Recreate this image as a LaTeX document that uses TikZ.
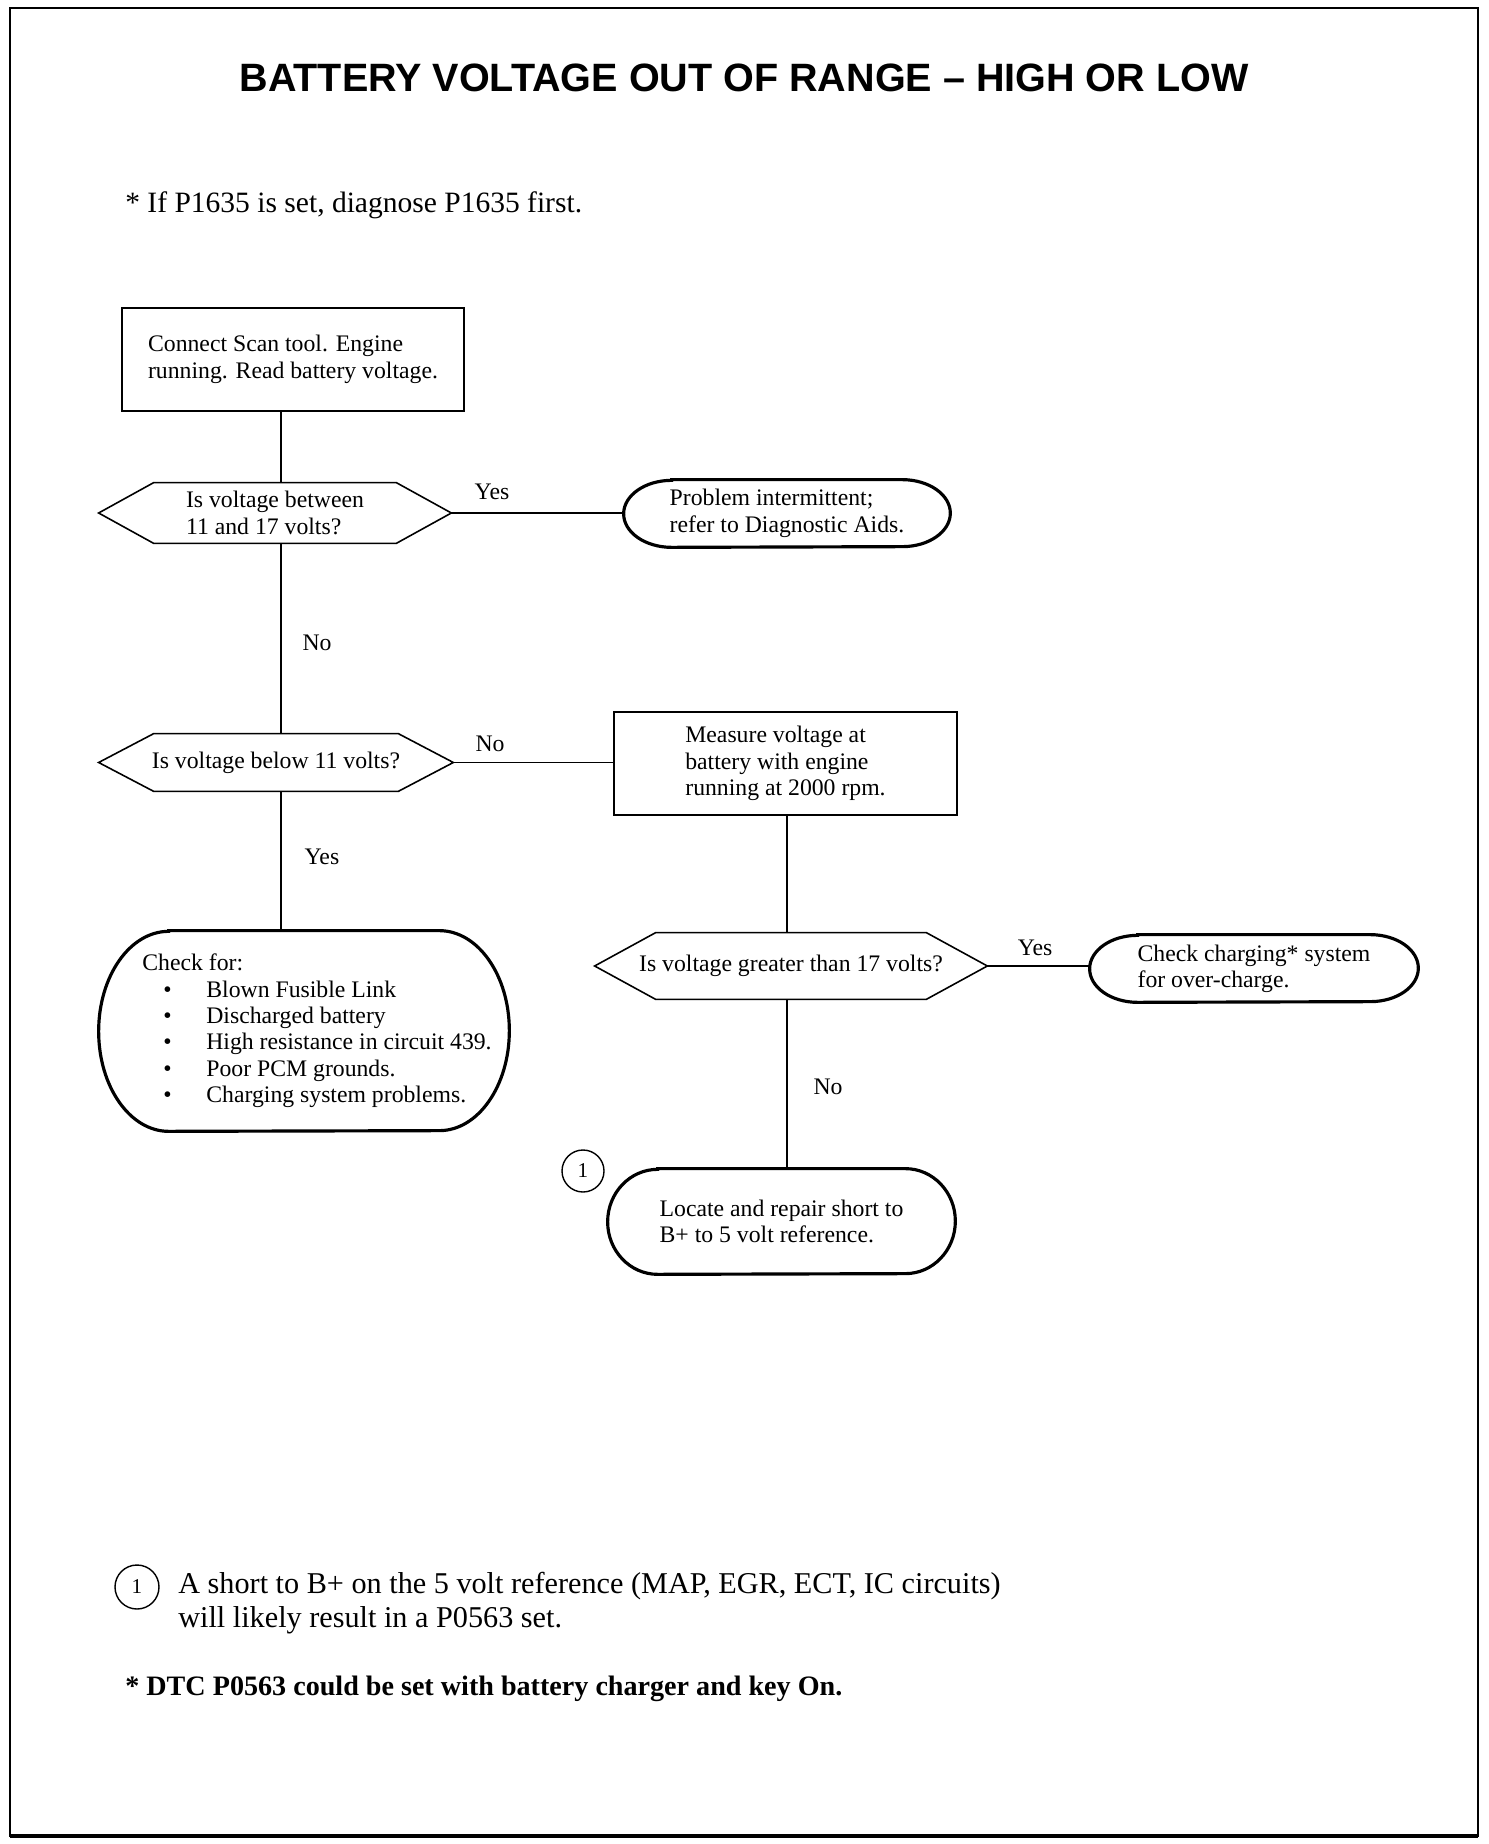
\documentclass[tikz,border=0pt]{standalone}
\usepackage{fontspec}
\setmainfont{Liberation Serif}
\newfontfamily\titlefont{Liberation Sans}
\usetikzlibrary{positioning,calc}

\newcommand{\boxfont}{\fontsize{13.5}{15}\selectfont}
% hexagon outline round a decision node: name, slant
\newcommand{\hexdraw}[2]{%
  \draw [black, line width=0.9pt] (#1.west) -- ($(#1.north west)+(#2,0)$)
    -- ($(#1.north east)+(-#2,0)$) -- (#1.east)
    -- ($(#1.south east)+(-#2,0)$) -- ($(#1.south west)+(#2,0)$) -- cycle;}
% outline with oval ends round a terminal node: name, x radius, y radius
\newcommand{\ovaldraw}[3]{%
  \draw [black, line width=1.8pt] ($(#1.north west)+(#2,0)$) -- ($(#1.north east)+(-#2,0)$)
    arc [start angle=90, end angle=-90, x radius=#2, y radius=#3]
    -- ($(#1.south west)+(#2,0)$)
    arc [start angle=270, end angle=90, x radius=#2, y radius=#3] -- cycle;}
\newcommand{\ind}{\hspace*{0.52cm}}
\newcommand{\bul}{\ind\hspace*{0.42cm}\makebox[0.86cm][l]{\textbullet}}

\begin{document}
\begin{tikzpicture}[scale=0.2]
\tikzstyle{every node}+=[inner sep=0pt]
\tikzstyle{procbox}=[draw=black, line width=0.9pt, align=left, font=\boxfont]
\tikzstyle{endbox}=[align=left, font=\boxfont]
\tikzstyle{decbox}=[align=left, font=\boxfont]
\tikzstyle{lbl}=[font=\boxfont]
\tikzstyle{flow}=[draw=black, line width=0.8pt]
\tikzstyle{refmark}=[draw=black, circle, line width=0.8pt, font=\fontsize{12}{14}\selectfont]
\useasboundingbox (0,0) rectangle (148.8,-184.4);
\draw [black, line width=0.8pt] (1.0,-0.8) rectangle (147.8,-183.6);
\draw [black, line width=2.2pt] (1.0,-183.6) -- (147.8,-183.6);
\node (title) at (74.4,-7.8) {\titlefont\bfseries\fontsize{22.5}{26}\selectfont BATTERY VOLTAGE OUT OF RANGE \textendash{} HIGH OR LOW};
\node (note) [anchor=west, font=\fontsize{16.8}{20}\selectfont] at (12.5,-20.5) {* If P1635 is set, diagnose P1635 first.};
% column lines
\coordinate (colL) at (28.1,0);
\coordinate (colR) at (78.7,0);
% boxes
\node (scan) [procbox, minimum width=6.84cm, minimum height=2.06cm] at (29.3,-35.95) {Connect Scan tool. Engine\\running. Read battery voltage.};
\node (d1) [decbox, minimum width=7.04cm, minimum height=1.2cm] at (27.5,-51.3) {Is voltage between\\11 and 17 volts?};
\hexdraw{d1}{5.5}
\node (prob) [endbox, minimum width=6.52cm, minimum height=1.34cm] at (78.7,-51.35) {Problem intermittent;\\refer to Diagnostic Aids.};
\ovaldraw{prob}{4.8}{3.35}
\node (d2) [decbox, minimum width=7.08cm, minimum height=1.14cm] at (27.6,-76.25) {Is voltage below 11 volts?};
\hexdraw{d2}{5.5}
\node (meas) [procbox, minimum width=6.86cm, minimum height=2.06cm] at (78.55,-76.35) {Measure voltage at\\battery with engine\\running at 2000 rpm.};
\node (check) [endbox, minimum width=8.2cm, minimum height=4cm] at (30.4,-103.1) {\ind Check for:\\
\bul Blown Fusible Link\\
\bul Discharged battery\\
\bul High resistance in circuit 439.\\
\bul Poor PCM grounds.\\
\bul Charging system problems.};
\ovaldraw{check}{7}{10}
\node (d3) [decbox, minimum width=7.84cm, minimum height=1.32cm] at (79.1,-96.6) {Is voltage greater than 17 volts?};
\hexdraw{d3}{6.1}
\node (charge) [endbox, minimum width=6.56cm, minimum height=1.34cm] at (125.4,-96.85) {Check charging* system\\for over-charge.};
\ovaldraw{charge}{4.8}{3.35}
\node (locate) [endbox, minimum width=6.94cm, minimum height=2.1cm] at (78.15,-122.15) {Locate and repair short to\\B+ to 5 volt reference.};
\ovaldraw{locate}{5}{5.25}
\node (ref1) [refmark, minimum size=0.84cm] at (58.3,-117.1) {1};
% connectors
\draw [flow] (scan.south -| colL) -- (d1.north -| colL);
\draw [flow] (d1.east) -- (d1.east -| prob.west);
\draw [flow] (d1.south -| colL) -- (d2.north -| colL);
\draw [flow] (d2.east) -- (d2.east -| meas.west);
\draw [flow] (d2.south -| colL) -- (check.north -| colL);
\draw [flow] (meas.south -| colR) -- (d3.north -| colR);
\draw [flow] (d3.east) -- (d3.east -| charge.west);
\draw [flow] (d3.south -| colR) -- (locate.north -| colR);
\node (yes1) [lbl] at (49.2,-49.2) {Yes};
\node (no1) [lbl] at (31.7,-64.3) {No};
\node (no2) [lbl] at (49.0,-74.4) {No};
\node (yes2) [lbl] at (32.2,-85.7) {Yes};
\node (yes3) [lbl] at (103.5,-94.8) {Yes};
\node (no3) [lbl] at (82.8,-108.7) {No};
% notes
\node (ref2) [refmark, minimum size=0.88cm] at (13.7,-158.7) {1};
\node (foot) [anchor=west, align=left, font=\fontsize{17.2}{19}\selectfont] at (17.8,-160.3) {A short to B+ on the 5 volt reference (MAP, EGR, ECT, IC circuits)\\will likely result in a P0563 set.};
\node (dtc) [anchor=west, font=\fontsize{16}{19}\selectfont\bfseries] at (12.5,-168.9) {* DTC P0563 could be set with battery charger and key On.};
\end{tikzpicture}
\end{document}
